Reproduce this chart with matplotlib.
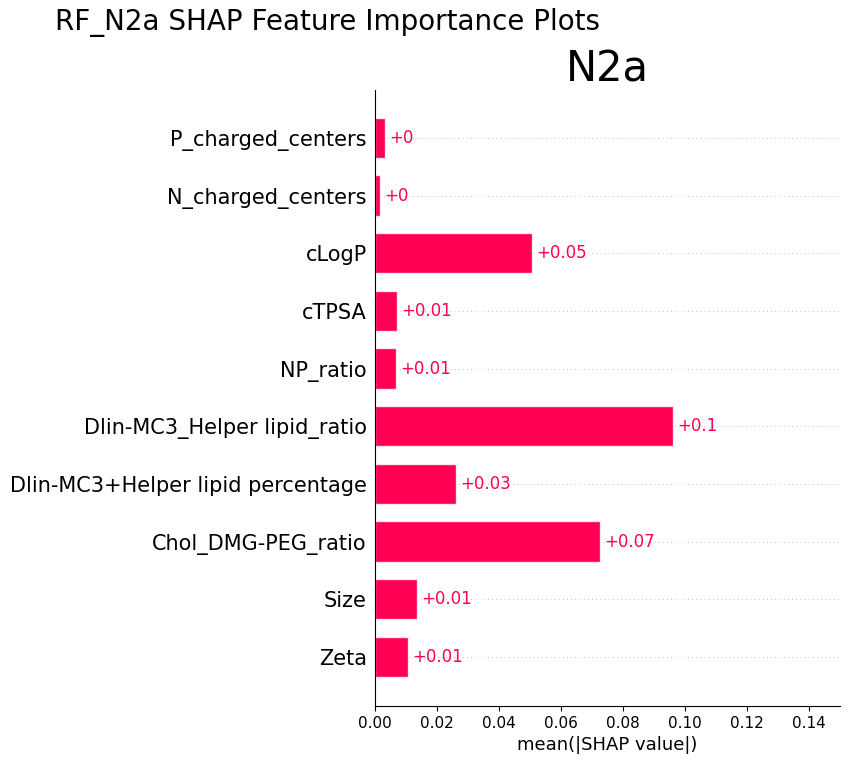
import matplotlib
matplotlib.use("Agg")
import matplotlib.pyplot as plt
import numpy as np

features = ["P_charged_centers", "N_charged_centers", "cLogP", "cTPSA", "NP_ratio",
            "Dlin-MC3_Helper lipid_ratio", "Dlin-MC3+Helper lipid percentage",
            "Chol_DMG-PEG_ratio", "Size", "Zeta"]
values = [0.0032, 0.0016, 0.0506, 0.0071, 0.0068, 0.0961, 0.0261, 0.0726, 0.0135, 0.0106]
labels = ["+0", "+0", "+0.05", "+0.01", "+0.01", "+0.1", "+0.03", "+0.07", "+0.01", "+0.01"]

red = "#ff0052"
fig = plt.figure(figsize=(8.5, 7.64), dpi=100)
ax = fig.add_axes([375/850, 1-706/764, (840-375)/850, (706-90)/764])

n = len(features)
ypos = np.arange(n)[::-1]
for y in ypos:
    ax.axhline(y, color="#888888", lw=0.5, dashes=(1, 5), zorder=-1)
ax.barh(ypos, values, height=0.7, color=red, edgecolor=(1, 1, 1, 0.8), lw=1)
for y, v, t in zip(ypos, values, labels):
    ax.text(v + 0.0015, y, t, ha="left", va="center", color=red, fontsize=12)

ax.set_yticks(ypos)
ax.set_yticklabels(features, fontsize=15)
ax.tick_params(axis="y", length=0, pad=6)
ax.tick_params(axis="x", labelsize=11)
ax.set_xlim(0, 0.15)
ax.set_xticks(np.arange(0, 0.141, 0.02))
ax.set_ylim(-0.85, n - 1 + 0.83)
ax.set_xlabel("mean(|SHAP value|)", fontsize=13)
for s in ["top", "right"]:
    ax.spines[s].set_visible(False)
ax.set_title("N2a", fontsize=30, pad=5)
fig.suptitle("RF_N2a SHAP Feature Importance Plots", x=0.385, y=0.989, fontsize=20, va="top")
fig.savefig("out.png", dpi=100)
